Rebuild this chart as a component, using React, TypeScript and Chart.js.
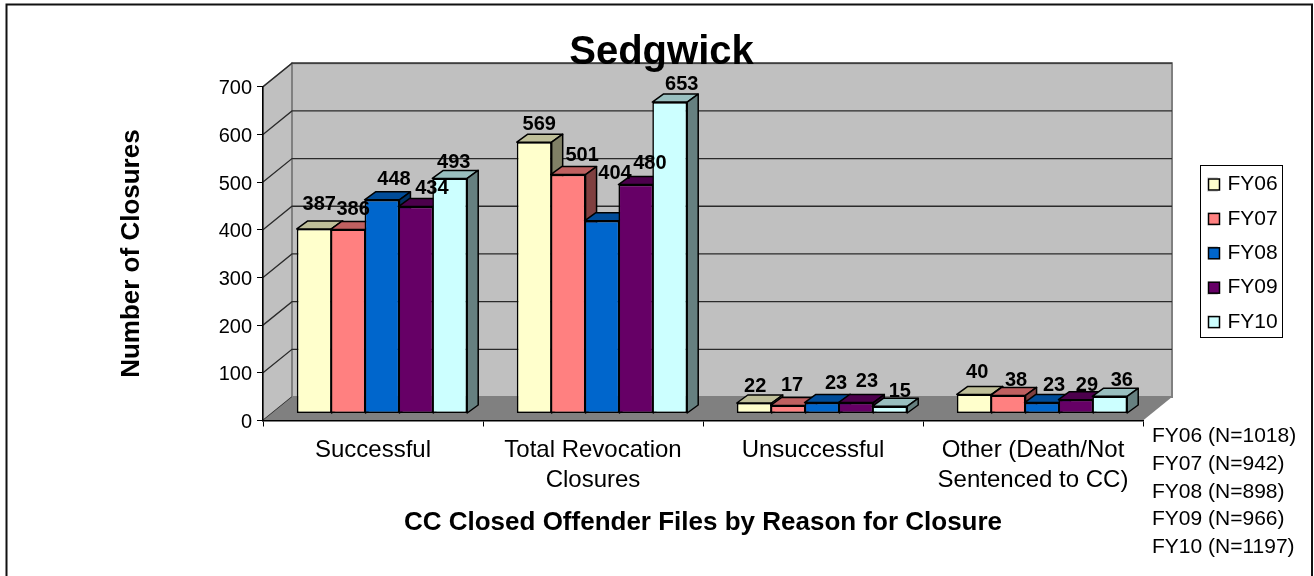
import React, { useEffect, useRef } from "react";
import { Chart, registerables } from "chart.js";

Chart.register(...registerables);

const categories = [
  "Successful",
  ["Total Revocation", "Closures"],
  "Unsuccessful",
  ["Other (Death/Not", "Sentenced to CC)"],
];
const seriesNames = ["FY06", "FY07", "FY08", "FY09", "FY10"];
const fy06 = [387, 569, 22, 40];
const fy07 = [386, 501, 17, 38];
const fy08 = [448, 404, 23, 23];
const fy09 = [434, 480, 23, 29];
const fy10 = [493, 653, 15, 36];
const seriesValues = [fy06, fy07, fy08, fy09, fy10];
const faceColors = ["#FFFFCC", "#FF8080", "#0066CC", "#660066", "#CCFFFF"];
const topColors = ["#BFBF99", "#BF6060", "#004C99", "#4C004C", "#99BFBF"];
const sideColors = ["#808066", "#804040", "#003366", "#330033", "#668080"];
const countNotes = ["FY06 (N=1018)", "FY07 (N=942)", "FY08 (N=898)", "FY09 (N=966)", "FY10 (N=1197)"];

// Excel's hand-placed data-label displacement from the top of each bar's front face
const labelNudges = [
  [[5, -19], [5, -11.7], [1, -11], [3, -16]],
  [[5, -14], [14, -14], [4, -14], [8, -9.7]],
  [[12, -15], [13, -42], [14, -13.5], [12, -11.5]],
  [[16, -12.7], [14, -16], [11, -16], [11, -8.7]],
  [[4, -10], [12, -11.7], [10, -9.7], [12, -10.7]],
];

const FONT = '"Liberation Sans", Arial, sans-serif';
const WALL_DX = 29;
const WALL_DY = 23.5;
const BAR_SHIFT_X = 9;
const BAR_SHIFT_Y = 7;
const BAR_DX = 11;
const BAR_DY = 8;
const LEGEND_FONT = 21;
const LEGEND_PAD = 13.4;
const LEGEND_BOX = 9;

function legendWidth() {
  const c = document.createElement("canvas").getContext("2d") as CanvasRenderingContext2D;
  c.font = `${LEGEND_FONT}px ${FONT}`;
  const w = Math.max(...seriesNames.map((s) => c.measureText(s).width));
  return LEGEND_PAD + LEGEND_BOX + LEGEND_FONT / 2 + w;
}

function poly(ctx: CanvasRenderingContext2D, pts: number[][], fill: string, stroke: string, lw: number) {
  ctx.beginPath();
  pts.forEach((p, i) => (i ? ctx.lineTo(p[0], p[1]) : ctx.moveTo(p[0], p[1])));
  ctx.closePath();
  ctx.fillStyle = fill;
  ctx.fill();
  if (lw > 0) {
    ctx.strokeStyle = stroke;
    ctx.lineWidth = lw;
    ctx.stroke();
  }
}

const scenePlugin = {
  id: "scene3d",
  afterLayout(chart: any) {
    const legend = chart.legend;
    legend.left = 1194.6;
    legend.right = legend.left + legend.width;
    legend.top = 160.6;
    legend.bottom = legend.top + legend.height;
    const t = chart.titleBlock;
    t.left = 8;
    t.right = 1315;
    const y = chart.scales.y;
    if (!y._shifted) {
      y._shifted = true;
      const orig = y.drawLabels;
      y.drawLabels = function (area: any) {
        this.ctx.save();
        this.ctx.translate(0, 2);
        orig.call(this, area);
        this.ctx.restore();
      };
    }
  },
  beforeDraw(chart: any) {
    const { ctx, chartArea: a, scales } = chart;
    const y = scales.y;
    ctx.save();
    ctx.fillStyle = "#FFFFFF";
    ctx.fillRect(0, 0, chart.width, chart.height);

    // page frame (open at the bottom)
    ctx.strokeStyle = "#111111";
    ctx.lineWidth = 2;
    ctx.beginPath();
    ctx.moveTo(6.5, 576);
    ctx.lineTo(6.5, 4.5);
    ctx.lineTo(1312, 4.5);
    ctx.lineTo(1312, 576);
    ctx.stroke();

    // left wall, back wall, floor
    poly(ctx, [[a.left, a.top], [a.left + WALL_DX, a.top - WALL_DY], [a.left + WALL_DX, a.bottom - WALL_DY], [a.left, a.bottom]], "#C0C0C0", "#808080", 1.5);
    poly(ctx, [[a.left + WALL_DX, a.top - WALL_DY], [a.right + WALL_DX, a.top - WALL_DY], [a.right + WALL_DX, a.bottom - WALL_DY], [a.left + WALL_DX, a.bottom - WALL_DY]], "#C0C0C0", "#808080", 2);
    ctx.strokeStyle = "#2a2a2a";
    ctx.lineWidth = 1.3;
    y.ticks.forEach((tick: any) => {
      const py = y.getPixelForValue(tick.value);
      ctx.beginPath();
      ctx.moveTo(a.left, py);
      ctx.lineTo(a.left + WALL_DX, py - WALL_DY);
      if (tick.value > 0) ctx.lineTo(a.right + WALL_DX, py - WALL_DY);
      ctx.stroke();
    });
    poly(ctx, [[a.left, a.bottom], [a.right, a.bottom], [a.right + WALL_DX, a.bottom - WALL_DY], [a.left + WALL_DX, a.bottom - WALL_DY]], "#808080", "#808080", 0);

    // legend frame
    ctx.strokeStyle = "#000000";
    ctx.lineWidth = 1;
    ctx.fillStyle = "#FFFFFF";
    ctx.fillRect(1200.5, 165.5, 82, 172);
    ctx.strokeRect(1200.5, 165.5, 82, 172);
    ctx.restore();
  },
  // paint left-to-right so each bar's front covers the side of its left neighbour
  beforeDatasetsDraw(chart: any) {
    const { ctx } = chart;
    seriesValues.forEach((_, i) => {
      const meta = chart.getDatasetMeta(i);
      ctx.save();
      ctx.translate(BAR_SHIFT_X, -BAR_SHIFT_Y);
      ctx.lineJoin = "round";
      meta.data.forEach((bar: any) => {
        const l = bar.x - bar.width / 2;
        const r = bar.x + bar.width / 2;
        const t = bar.y;
        const b = bar.base;
        poly(ctx, [[l, t], [r, t], [r + BAR_DX, t - BAR_DY], [l + BAR_DX, t - BAR_DY]], topColors[i], "#000000", 1.5);
        poly(ctx, [[r, t], [r + BAR_DX, t - BAR_DY], [r + BAR_DX, b - BAR_DY], [r, b]], sideColors[i], "#000000", 1.5);
      });
      meta.controller.draw();
      ctx.restore();
    });
    return false;
  },
  afterDraw(chart: any) {
    const { ctx } = chart;
    ctx.save();
    // data labels
    ctx.font = `bold 20px ${FONT}`;
    ctx.fillStyle = "#000000";
    ctx.textAlign = "center";
    ctx.textBaseline = "alphabetic";
    seriesValues.forEach((vals, i) => {
      const meta = chart.getDatasetMeta(i);
      vals.forEach((v, j) => {
        const bar = meta.data[j];
        const [nx, ny] = labelNudges[i][j];
        ctx.fillText(String(v), bar.x + BAR_SHIFT_X + nx, bar.y - BAR_SHIFT_Y + ny);
      });
    });

    // legend swatches drawn over the library's narrow key boxes
    const legend = chart.legend;
    seriesNames.forEach((_, i) => {
      const sx = legend.left + LEGEND_PAD;
      const sy = legend.top + LEGEND_PAD + i * (LEGEND_FONT + LEGEND_PAD) + (LEGEND_FONT - 12) / 2;
      ctx.fillStyle = "#FFFFFF";
      ctx.fillRect(sx - 1, sy - 1, 14, 14);
      ctx.fillStyle = faceColors[i];
      ctx.strokeStyle = "#000000";
      ctx.lineWidth = 1.5;
      ctx.fillRect(sx + 0.5, sy + 0.5, 11, 11);
      ctx.strokeRect(sx + 0.5, sy + 0.5, 11, 11);
    });

    // N= text box
    ctx.font = `21px ${FONT}`;
    ctx.fillStyle = "#000000";
    ctx.textAlign = "left";
    countNotes.forEach((s, i) => ctx.fillText(s, 1152, 441.7 + i * 27.9));
    ctx.restore();
  },
};

export default function App() {
  const ref = useRef<HTMLCanvasElement>(null);
  useEffect(() => {
    document.body.style.margin = "0";
    const chart = new Chart(ref.current as HTMLCanvasElement, {
      type: "bar",
      data: {
        labels: categories as any,
        datasets: seriesNames.map((name, i) => ({
          label: name,
          data: seriesValues[i],
          backgroundColor: faceColors[i],
          borderColor: "#000000",
          borderWidth: 1.6,
          borderSkipped: false,
          clip: false,
        })) as any,
      },
      options: {
        responsive: false,
        animation: false,
        layout: { padding: { left: 0, right: 161 - legendWidth(), top: 0, bottom: 0 } },
        datasets: { bar: { categoryPercentage: 0.77, barPercentage: 1.03 } },
        scales: {
          x: {
            grid: { drawOnChartArea: false, drawTicks: true, tickLength: 6, tickColor: "#000000", tickWidth: 1, offset: true },
            border: { color: "#000000", width: 1.5 },
            ticks: {
              color: "#000000",
              font: { family: FONT, size: 24, lineHeight: 1.25 },
              padding: 9,
              autoSkip: false,
              maxRotation: 0,
            },
            title: {
              display: true,
              text: "CC Closed Offender Files by Reason for Closure",
              color: "#000000",
              font: { family: FONT, size: 26, weight: "bold", lineHeight: 1.2 },
              padding: { top: 0, bottom: 37.4 },
            },
            afterFit: (s: any) => {
              s.height = 155.5;
            },
          },
          y: {
            min: 0,
            max: 700,
            ticks: { stepSize: 100, color: "#000000", font: { family: FONT, size: 20 }, padding: 5 },
            grid: { drawOnChartArea: false, drawTicks: true, tickLength: 6, tickColor: "#000000", tickWidth: 1 },
            border: { color: "#000000", width: 1.5 },
            title: {
              display: true,
              text: "Number of Closures",
              color: "#000000",
              font: { family: FONT, size: 26, weight: "bold", lineHeight: 1.2 },
              padding: { top: 116, bottom: 0 },
            },
            afterFit: (s: any) => {
              s.width = 263;
            },
          },
        },
        plugins: {
          title: {
            display: true,
            text: "Sedgwick",
            color: "#000000",
            font: { family: FONT, size: 40, weight: "bold", lineHeight: 1.2 },
            padding: { top: 29, bottom: 9.7 },
          },
          legend: {
            display: true,
            position: "right",
            align: "start",
            fullSize: false,
            labels: {
              color: "#000000",
              font: { family: FONT, size: LEGEND_FONT },
              boxWidth: LEGEND_BOX,
              boxHeight: 12,
              padding: LEGEND_PAD,
            },
          },
          tooltip: { enabled: false },
        },
      } as any,
      plugins: [scenePlugin as any],
    });
    return () => chart.destroy();
  }, []);
  return <canvas ref={ref} width={1314} height={576} style={{ display: "block" }} />;
}
